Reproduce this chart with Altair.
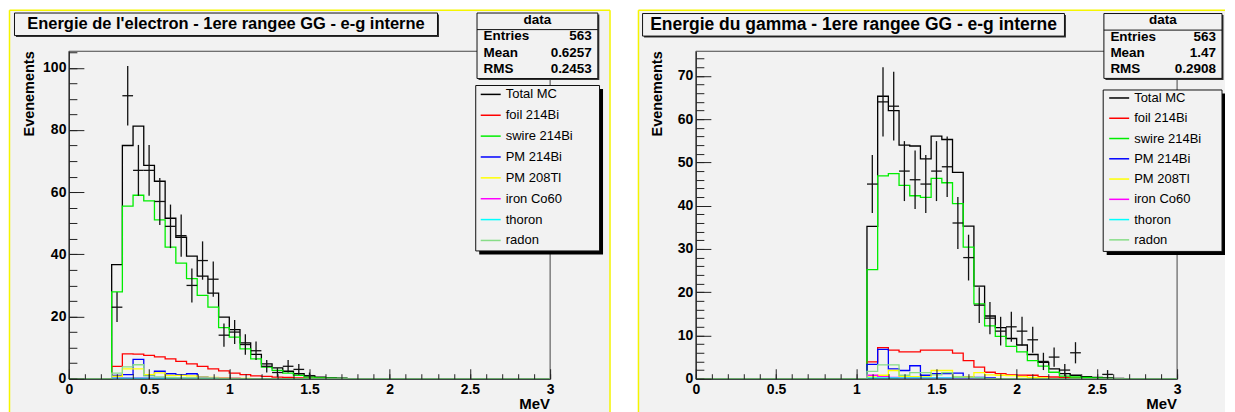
import math
import altair as alt
import pandas as pd

FONT = "Liberation Sans"
BPM = 15  # histogram bins per MeV (bin width 1/15 MeV)

series_names = ["Total MC", "foil 214Bi", "swire 214Bi", "PM 214Bi", "PM 208Tl",
                "iron Co60", "thoron", "radon"]
series_colors = ["#000000", "#ff0000", "#00ee00", "#0000ff", "#ffff00",
                 "#ff00ff", "#00ffff", "#88dd88"]

# ---------------- electron energy panel (first listed bin = index 4) ----------
e_first_bin = 4
e_total = [36.7, 75.0, 81.2, 68.6, 63.5, 51.6, 45.5, 39.4, 33.0, 27.5, 19.8, 15.8,
           11.5, 7.8, 4.8, 3.5, 2.4, 1.6, 0.9, 0.5, 0.3, 0.2]
e_foil = [4.0, 8.0, 7.9, 7.5, 7.0, 6.4, 5.6, 4.8, 4.0, 3.2, 2.5, 1.8, 1.3, 0.9,
          0.75, 0.5, 0.4, 0.3, 0.2, 0.1]
e_swire = [27.9, 55.5, 59.0, 57.2, 51.1, 42.3, 37.2, 32.2, 26.8, 23.0, 16.4, 13.4,
           9.6, 6.4, 3.75, 2.7, 1.8, 1.1, 0.5, 0.3, 0.2, 0.1]
e_pm214 = [1.1, 1.3, 6.2, 1.1, 2.4, 1.6, 1.3, 1.6, 0.5, 0.3, 0.2, 0.1]
e_pm208 = [0.8, 3.2, 3.2, 1.3, 1.9, 1.1, 1.1, 0.9, 0.5, 0.4, 0.3, 0.2, 0.1]
e_iron = [0.3, 0.3, 0.3, 0.3, 0.3, 0.3, 0.2, 0.2, 0.2, 0.2, 0.1, 0.1]
e_thoron = [0.2, 0.2, 0.2, 0.2, 0.2, 0.2, 0.2, 0.2, 0.1, 0.1]
e_radon = [1.8, 3.8, 4.5, 0.9, 0.6, 0.4, 0.3, 0.3, 0.2, 0.2]
e_data_first_bin = 4
e_data = [23, 91, 67, 67, 57, 49, 46, 30, 38, 32, 14, 15, 11, 9, 4, 2, 4, 3, 1]

# ---------------- gamma energy panel (first listed bin = index 16) ------------
g_first_bin = 16
g_total = [35.2, 65.3, 62.0, 54.0, 53.8, 50.8, 56.1, 55.3, 47.7, 35.3, 21.4, 14.5,
           11.8, 9.3, 7.8, 5.6, 3.8, 2.3, 1.2, 0.8, 0.5, 0.3, 0.2, 0.1]
g_foil = [3.9, 7.2, 6.6, 6.2, 6.2, 6.6, 6.6, 6.6, 5.9, 4.2, 2.7, 1.5, 1.2, 0.9,
          0.85, 0.8, 0.5, 0.4, 0.3, 0.2, 0.1]
g_swire = [25.2, 46.9, 47.4, 44.7, 42.3, 41.9, 46.3, 45.3, 40.5, 30.4, 17.3, 12.2,
           9.8, 7.5, 6.2, 4.2, 2.9, 1.5, 0.6, 0.4, 0.3, 0.2, 0.1]
g_pm214 = [3.3, 6.8, 2.3, 1.9, 3.0, 0.8, 1.2, 1.2, 1.3, 0.4, 0.3, 0.2]
g_pm208 = [0.4, 0.8, 1.9, 0.5, 0.5, 0.4, 1.9, 1.9, 0.4, 0.4, 1.4, 0.9, 0.8, 0.7,
           0.5, 0.3, 0.2]
g_iron = [0.8, 0.5, 0.3, 0.2, 0.2, 0.2, 0.2, 0.2, 0.1, 0.1]
g_thoron = [0.2, 0.2, 0.2, 0.2, 0.2, 0.2, 0.2, 0.2, 0.2, 0.2, 0.2]
g_radon = [1.7, 3.2, 3.2, 0.8, 1.4, 1.4, 0.9, 1.4, 0.4, 0.3, 0.2]
g_data_first_bin = 16
g_data = [45, 64, 63, 48, 46, 45, 48, 49, 36, 28, 17, 14, 11, 12, 11, 9, 4, 5, 2,
          6, 0, 0, 1]

# ---------------- texts ----------------
e_title = "Energie de l'electron - 1ere rangee GG - e-g interne"
g_title = "Energie du gamma - 1ere rangee GG - e-g interne"
stats_header = "data"
stat_labels = ["Entries", "Mean", "RMS"]
e_stat_values = ["563", "0.6257", "0.2453"]
g_stat_values = ["563", "1.47", "0.2908"]
x_title = "MeV"
y_title = "Evenements"

x_major = [0, 0.5, 1, 1.5, 2, 2.5, 3]
x_minor = [round(i * 0.1, 1) for i in range(31)]
e_y_major = [0, 20, 40, 60, 80, 100]
e_y_minor = list(range(0, 106, 5))
g_y_major = [0, 10, 20, 30, 40, 50, 60, 70]
g_y_minor = list(range(0, 76, 2))
e_ymax = 105.3
g_ymax = 75.7

W, H = 482, 328
ONE = pd.DataFrame({"k": [0]})
PANEL_BG = "#f2f2f2"
YELLOW = "#f5f500"


def hist_frame(first_bin, lists):
    rows = []
    for name, counts in zip(series_names, lists):
        rows.append(dict(series=name, x=0.0, y=0.0, o=0))
        for i, c in enumerate(counts):
            rows.append(dict(series=name, x=(first_bin + i) / BPM, y=c, o=i + 1))
        rows.append(dict(series=name, x=(first_bin + len(counts)) / BPM, y=0.0, o=len(counts) + 1))
        rows.append(dict(series=name, x=3.0, y=0.0, o=len(counts) + 2))
    return pd.DataFrame(rows)


def data_frame(first_bin, counts):
    rows = []
    for i, n in enumerate(counts):
        if n <= 0:
            continue
        b = first_bin + i
        e = math.sqrt(n)
        rows.append(dict(xc=(b + 0.5) / BPM, xl=b / BPM, xh=(b + 1) / BPM, n=n, lo=n - e, hi=n + e))
    return pd.DataFrame(rows)


def rect(x1, y1, x2, y2, **style):
    return alt.Chart(ONE).mark_rect(**style).encode(
        x=alt.value(x1), x2=alt.value(x2), y=alt.value(y1), y2=alt.value(y2))


def rule(x1, y1, x2, y2, color, width=1.0):
    return alt.Chart(ONE).mark_rule(color=color, strokeWidth=width).encode(
        x=alt.value(x1), x2=alt.value(x2), y=alt.value(y1), y2=alt.value(y2))


def text(s, x, y, size, weight="bold", align="left", baseline="middle", angle=0):
    return alt.Chart(ONE).mark_text(
        text=s, font=FONT, fontSize=size, fontWeight=weight, align=align,
        baseline=baseline, angle=angle, color="black").encode(x=alt.value(x), y=alt.value(y))


def axis(**kw):
    base = dict(grid=False, title=None, zindex=1, labelFont=FONT, labelFontSize=14,
                labelFontWeight="bold", labelColor="black", domainColor="#222",
                tickColor="#222", tickWidth=1, labelFlush=False, labelOverlap=False)
    base.update(kw)
    return alt.Axis(**base)


def panel(p):
    xs = alt.Scale(domain=[0, 3], nice=False, zero=False)
    ys = alt.Scale(domain=[0, p["ymax"]], nice=False, zero=False)
    hist = hist_frame(p["first"], p["lists"])
    dat = data_frame(p["dfirst"], p["data"])

    layers = []
    # canvas background and yellow pad border
    layers.append(rect(p["bg"][0], p["bg"][1], p["bg"][2], p["bg"][3], fill=PANEL_BG))
    for (x1, y1, x2, y2) in p["yellow"]:
        layers.append(rule(x1, y1, x2, y2, YELLOW, 1.5))
    # frame
    layers.append(rect(0, 0, W, H, fillOpacity=0, stroke="#444", strokeWidth=1))

    leg = alt.Legend(orient="none", legendX=p["legx"], legendY=p["legy"], title=None,
                     direction="vertical", symbolType="stroke", symbolSize=400,
                     symbolStrokeWidth=1.5, labelFont=FONT, labelFontSize=13,
                     labelColor="black", labelOffset=4, rowPadding=p["rowpad"], padding=0,
                     zindex=1, labelLimit=200)
    layers.append(alt.Chart(hist).mark_line(interpolate="step-after", strokeWidth=1.3).encode(
        x=alt.X("x:Q", scale=xs, axis=axis(orient="bottom", values=x_major, format="~g",
                                            ticks=False, domain=True, labelPadding=4)),
        y=alt.Y("y:Q", scale=ys, axis=axis(orient="left", values=p["ymaj"], ticks=False,
                                            domain=True, labelPadding=3)),
        color=alt.Color("series:N", scale=alt.Scale(domain=series_names, range=series_colors),
                        legend=leg),
        order=alt.Order("o:Q"),
    ))
    layers.append(alt.Chart(dat).mark_rule(color="#111", strokeWidth=1.3).encode(
        x=alt.X("xc:Q", scale=xs, axis=axis(orient="top", offset=-H, values=x_major,
                                             labels=False, domain=False, tickSize=10)),
        y=alt.Y("lo:Q", scale=ys, axis=axis(orient="right", offset=-W, values=p["ymaj"],
                                             labels=False, domain=False, tickSize=15)),
        y2="hi:Q",
    ))
    layers.append(alt.Chart(dat).mark_rule(color="#111", strokeWidth=1.3).encode(
        x=alt.X("xl:Q", scale=xs, axis=axis(orient="top", offset=-H, values=x_minor,
                                             labels=False, domain=False, tickSize=5)),
        x2="xh:Q",
        y=alt.Y("n:Q", scale=ys, axis=axis(orient="right", offset=-W, values=p["ymin"],
                                            labels=False, domain=False, tickSize=8)),
    ))

    # title box
    tx1, ty1, tx2, ty2 = p["tbox"]
    layers.append(rect(tx1 + 1.5, ty1 + 1.5, tx2 + 1.5, ty2 + 1.5, fill="#333"))
    layers.append(rect(tx1, ty1, tx2, ty2, fill=PANEL_BG, stroke="#111", strokeWidth=1))
    layers.append(text(p["title"], (tx1 + tx2) / 2, (ty1 + ty2) / 2, p["tsize"], align="center"))

    # stats box
    sx1, sy1, sx2, sy2 = p["sbox"]
    layers.append(rect(sx1 + 1.5, sy1 + 1.5, sx2 + 1.5, sy2 + 1.5, fill="#333"))
    layers.append(rect(sx1, sy1, sx2, sy2, fill=PANEL_BG, stroke="#111", strokeWidth=1))
    layers.append(rule(sx1, p["ssep"], sx2, p["ssep"], "#111", 1))
    layers.append(text(stats_header, (sx1 + sx2) / 2, p["srows"][0], 13.5, align="center"))
    for i, (lab, val) in enumerate(zip(stat_labels, p["stats"])):
        layers.append(text(lab, sx1 + 6.5, p["srows"][i + 1], 13.5))
        layers.append(text(val, sx2 - 6, p["srows"][i + 1], 13.5, align="right"))

    # legend box with shadow
    lx1, ly1, lx2, ly2 = p["lbox"]
    layers.append(rect(lx1 + 3.5, ly1 + 3.5, min(lx2 + 3.5, p["xmaxpix"]), ly2 + 3.5, fill="#000"))
    layers.append(rect(lx1, ly1, lx2, ly2, fill=PANEL_BG, stroke="#111", strokeWidth=1))

    # axis titles
    layers.append(text(y_title, p["ytx"], 0, 14.5, align="right", angle=270))
    layers.append(text(x_title, W, p["xty"], 15, align="right", baseline="alphabetic"))

    return alt.layer(*layers).resolve_axis(x="independent", y="independent").properties(
        width=W, height=H)


left = panel(dict(
    ymax=e_ymax, ymaj=e_y_major, ymin=e_y_minor,
    first=e_first_bin,
    lists=[e_total, e_foil, e_swire, e_pm214, e_pm208, e_iron, e_thoron, e_radon],
    dfirst=e_data_first_bin, data=e_data,
    bg=(-59.5, -41, 542, 362.5),
    yellow=[(-59.5, -41, -59.5, 362.5), (-59.5, -41, 542, -41), (542, -41, 542, 362.5)],
    tbox=(-54.5, -38.3, 369.2, -15.7), title=e_title, tsize=16.5,
    sbox=(408.8, -38.3, 529.8, 27.3), ssep=-21.7, srows=[-31.2, -15.0, 1.7, 17.7],
    stats=e_stat_values,
    lbox=(407.5, 34.3, 531.5, 200.0), legx=411.5, legy=32.2, rowpad=2.9, xmaxpix=600,
    ytx=-38.5, xty=358,
))

right = panel(dict(
    ymax=g_ymax, ymaj=g_y_major, ymin=g_y_minor,
    first=g_first_bin,
    lists=[g_total, g_foil, g_swire, g_pm214, g_pm208, g_iron, g_thoron, g_radon],
    dfirst=g_data_first_bin, data=g_data,
    bg=(-57.5, -41, 530, 362.5),
    yellow=[(-57.5, -41, -57.5, 362.5), (-57.5, -41, 530, -41)],
    tbox=(-53.4, -37.8, 369.2, -15.2), title=g_title, tsize=17.5,
    sbox=(408.7, -37.8, 527.0, 27.2), ssep=-21.2, srows=[-31.2, -14.5, 2.2, 17.8],
    stats=g_stat_values,
    lbox=(408.0, 38.8, 527.0, 200.5), legx=413, legy=35.8, rowpad=2.3, xmaxpix=530,
    ytx=-38.3, xty=358,
))

chart = alt.hconcat(left, right, spacing=146, bounds="flush", padding=0,
                    background="white").resolve_scale(color="independent").resolve_legend(
    color="independent").configure_view(stroke="transparent", fill="transparent")

chart.save("out.html", embed_options={"renderer": "svg", "actions": False})
